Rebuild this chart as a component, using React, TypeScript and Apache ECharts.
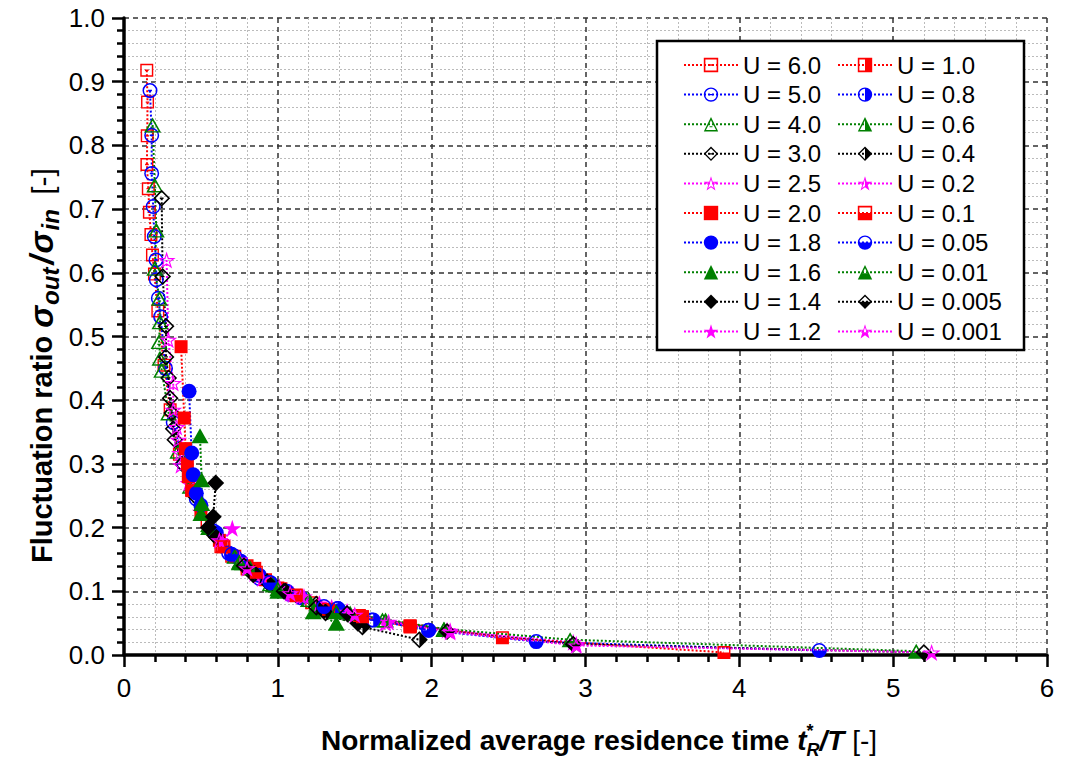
import React, { useEffect, useRef } from 'react';
import * as echarts from 'echarts';

// ---------------- data ----------------
const seriesNames = [
  'U = 6.0', 'U = 5.0', 'U = 4.0', 'U = 3.0', 'U = 2.5',
  'U = 2.0', 'U = 1.8', 'U = 1.6', 'U = 1.4', 'U = 1.2',
  'U = 1.0', 'U = 0.8', 'U = 0.6', 'U = 0.4', 'U = 0.2',
  'U = 0.1', 'U = 0.05', 'U = 0.01', 'U = 0.005', 'U = 0.001',
];

const u6_0 = [[0.148,0.918],[0.153,0.868],[0.151,0.815],[0.149,0.77],[0.158,0.732],[0.165,0.695],[0.175,0.66],[0.185,0.628],[0.198,0.598],[0.22,0.54],[0.26,0.455],[0.3,0.385],[0.36,0.315],[0.44,0.26],[0.54,0.21],[0.64,0.172],[0.8,0.135],[1.0,0.105],[1.22,0.082],[1.55,0.06],[1.86,0.044]];
const u5_0 = [[0.169,0.886],[0.18,0.816],[0.18,0.756],[0.19,0.704],[0.197,0.657],[0.208,0.62],[0.21,0.589],[0.223,0.56],[0.238,0.531],[0.27,0.45],[0.32,0.365],[0.39,0.3],[0.47,0.245],[0.58,0.195],[0.7,0.157],[0.88,0.12],[1.08,0.095],[1.39,0.073],[1.61,0.055]];
const u4_0 = [[0.186,0.832],[0.2,0.738],[0.21,0.667],[0.2,0.607],[0.23,0.56],[0.234,0.523],[0.228,0.492],[0.234,0.466],[0.245,0.447],[0.29,0.38],[0.35,0.32],[0.43,0.265],[0.55,0.205],[0.75,0.145],[0.95,0.112],[1.2,0.087],[1.45,0.067],[1.68,0.055]];
const u3_0 = [[0.245,0.717],[0.251,0.594],[0.273,0.516],[0.273,0.468],[0.29,0.435],[0.3,0.403],[0.31,0.38],[0.32,0.355],[0.33,0.338],[0.38,0.3],[0.46,0.25],[0.58,0.19],[0.78,0.14],[1.0,0.105],[1.25,0.08],[1.5,0.06]];
const u2_5 = [[0.277,0.62],[0.288,0.495],[0.32,0.427],[0.32,0.385],[0.343,0.358],[0.353,0.338],[0.364,0.317],[0.37,0.298],[0.42,0.27],[0.5,0.225],[0.62,0.18],[0.85,0.128],[1.1,0.095],[1.35,0.075],[1.7,0.05]];
const u2_0 = [[0.371,0.484],[0.392,0.372],[0.4,0.324],[0.412,0.3],[0.418,0.28],[0.44,0.258],[0.5,0.225],[0.62,0.18],[0.72,0.155],[0.85,0.136],[1.02,0.104],[1.33,0.07],[1.55,0.058],[1.86,0.045]];
const u1_8 = [[0.423,0.414],[0.44,0.317],[0.45,0.283],[0.47,0.254],[0.5,0.235],[0.6,0.192],[0.72,0.155],[0.95,0.113],[1.15,0.09],[1.4,0.07]];
const u1_6 = [[0.494,0.344],[0.505,0.275],[0.505,0.238],[0.5,0.222],[0.55,0.2],[0.77,0.145],[1.0,0.1],[1.23,0.068],[1.38,0.05]];
const u1_4 = [[0.596,0.27],[0.58,0.217],[0.548,0.2],[0.6,0.185],[0.84,0.126],[1.05,0.1],[1.3,0.07],[1.52,0.05]];
const u1_2 = [[0.704,0.199],[0.64,0.178],[0.75,0.15],[0.88,0.125],[1.01,0.107],[1.09,0.097],[1.17,0.092],[1.27,0.081],[1.45,0.068],[1.7,0.052],[2.1,0.039],[2.94,0.017]];
const u1_0 = [[0.63,0.17],[0.7,0.155],[0.8,0.14],[0.92,0.118],[1.12,0.093],[1.33,0.072],[1.53,0.062],[1.86,0.046]];
const u0_8 = [[0.68,0.16],[0.76,0.147],[0.88,0.125],[1.06,0.1],[1.39,0.073],[1.62,0.055],[1.98,0.039]];
const u0_6 = [[0.72,0.155],[0.82,0.137],[0.97,0.11],[1.2,0.087],[1.47,0.066],[1.7,0.055],[2.08,0.04]];
const u0_4 = [[0.85,0.128],[0.93,0.115],[1.05,0.1],[1.25,0.075],[1.31,0.066],[1.55,0.044],[1.92,0.024]];
const u0_2 = [[0.62,0.18],[0.75,0.15],[0.9,0.12],[1.15,0.092],[1.45,0.068],[1.72,0.052],[2.12,0.038],[2.92,0.02]];
const u0_1 = [[0.65,0.17],[0.86,0.13],[1.12,0.094],[1.55,0.06],[2.46,0.027],[3.9,0.004]];
const u0_05 = [[0.7,0.158],[0.95,0.114],[1.3,0.076],[1.98,0.039],[2.68,0.021],[4.52,0.007]];
const u0_01 = [[0.75,0.146],[1.0,0.104],[1.38,0.068],[2.08,0.041],[2.9,0.024],[5.15,0.006]];
const u0_005 = [[0.78,0.14],[1.04,0.1],[1.45,0.065],[2.1,0.037],[2.92,0.017],[5.2,0.004]];
const u0_001 = [[0.8,0.136],[1.08,0.097],[1.5,0.063],[2.12,0.036],[2.94,0.015],[5.25,0.004]];

const seriesData = [
  u6_0, u5_0, u4_0, u3_0, u2_5,
  u2_0, u1_8, u1_6, u1_4, u1_2,
  u1_0, u0_8, u0_6, u0_4, u0_2,
  u0_1, u0_05, u0_01, u0_005, u0_001,
];

const xTicks = [0, 1, 2, 3, 4, 5, 6];
const yTickLabels = ['0.0','0.1','0.2','0.3','0.4','0.5','0.6','0.7','0.8','0.9','1.0'];

// ---------------- styles ----------------
const RED = '#ff0000', BLUE = '#0000ff', GREEN = '#008000', BLACK = '#000000', MAG = '#ff00ff';
const colorCycle = [RED, BLUE, GREEN, BLACK, MAG];

const SQ_OUT = 'M0 0H100V100H0Z';
const SQ_HOLE = 'M11 11V89H89V11Z';
const SQ_DASH = 'M36 45H64V55H36Z';
const SQ_RIGHT = 'M50 11H89V89H50Z';
const SQ_BOTTOM = 'M11 50H89V89H11Z';

const C_OUT = 'M0 50A50 50 0 1 1 100 50A50 50 0 1 1 0 50Z';
const C_HOLE = 'M10 50A40 40 0 1 0 90 50A40 40 0 1 0 10 50Z';
const C_DASH = 'M37 45H63V55H37Z';
const C_RIGHT = 'M50 10A40 40 0 0 1 50 90Z';
const C_BOTTOM = 'M10 50A40 40 0 0 0 90 50Z';

const T_OUT = 'M50 0L100 100L0 100Z';
const T_HOLE = 'M50 22L15 91L85 91Z';
const T_DASH = 'M40 65H60V72H40Z';
const T_RIGHT = 'M50 22L85 91L50 91Z';
const T_BOTTOM = 'M31.7 58H68.3L85 91H15Z';

const D_OUT = 'M50 0L100 50L50 100L0 50Z';
const D_HOLE = 'M50 13L13 50L50 87L87 50Z';
const D_DASH = 'M39 46H61V54H39Z';
const D_RIGHT = 'M50 13L87 50L50 87Z';
const D_BOTTOM = 'M13 50L87 50L50 87Z';

const S_OUT = 'M50 0L61.2 34.6L97.6 34.5L68.1 55.9L79.4 90.5L50 69L20.6 90.5L31.9 55.9L2.4 34.5L38.8 34.6Z';
const S_HOLE = 'M50 19.4L43.1 40.5L20.9 40.5L38.9 53.6L32 74.8L50 61.7L68 74.8L61.1 53.6L79.1 40.5L56.9 40.5Z';
const S_RIGHT = 'M50 19.4L56.9 40.5L79.1 40.5L61.1 53.6L68 74.8L50 61.7Z';
const S_BOTTOM = 'M34 50L66 50L61.1 53.6L68 74.8L50 61.7L32 74.8L38.9 53.6Z';

const p = (...parts: string[]) => 'path://' + parts.join('');
const shapeSets = [
  { open: p(SQ_OUT, SQ_HOLE, SQ_DASH), fill: p(SQ_OUT), right: p(SQ_OUT, SQ_HOLE, SQ_RIGHT), bottom: p(SQ_OUT, SQ_HOLE, SQ_BOTTOM), size: [13, 13] },
  { open: p(C_OUT, C_HOLE, C_DASH), fill: p(C_OUT), right: p(C_OUT, C_HOLE, C_RIGHT), bottom: p(C_OUT, C_HOLE, C_BOTTOM), size: [15, 15] },
  { open: p(T_OUT, T_HOLE, T_DASH), fill: p(T_OUT), right: p(T_OUT, T_HOLE, T_RIGHT), bottom: p(T_OUT, T_HOLE, T_BOTTOM), size: [17, 15] },
  { open: p(D_OUT, D_HOLE, D_DASH), fill: p(D_OUT), right: p(D_OUT, D_HOLE, D_RIGHT), bottom: p(D_OUT, D_HOLE, D_BOTTOM), size: [17, 17] },
  { open: p(S_OUT, S_HOLE), fill: p(S_OUT), right: p(S_OUT, S_HOLE, S_RIGHT), bottom: p(S_OUT, S_HOLE, S_BOTTOM), size: [18, 17] },
];
const variants = ['open', 'fill', 'right', 'bottom'] as const;

const FONT = "'Liberation Sans', Arial, Helvetica, sans-serif";

function measure(text: string, font: string): number {
  const ctx = document.createElement('canvas').getContext('2d');
  if (!ctx) return text.length * 10;
  ctx.font = font;
  return ctx.measureText(text).width;
}

type Seg = { text: string; size: number; weight: string; italic: boolean; dy: number; gap?: number; stackWithNext?: boolean };

function fontOf(s: Seg) {
  return `${s.italic ? 'italic ' : ''}${s.weight} ${s.size}px ${FONT}`;
}

function layoutSegs(segs: Seg[]) {
  const widths = segs.map((s) => measure(s.text, fontOf(s)));
  const xs: number[] = [];
  let x = 0;
  for (let i = 0; i < segs.length; i++) {
    x += segs[i].gap ?? 0;
    xs.push(x);
    if (segs[i].stackWithNext) continue;
    if (i > 0 && segs[i - 1].stackWithNext) x += Math.max(widths[i], widths[i - 1]);
    else x += widths[i];
  }
  return { xs, total: x };
}

function buildTitle(segs: Seg[], anchor: 'center' | 'start') {
  const { xs, total } = layoutSegs(segs);
  const off = anchor === 'center' ? -total / 2 : 0;
  return segs.map((s, i) => ({
    type: 'text',
    x: xs[i] + off,
    y: s.dy,
    style: {
      text: s.text,
      fill: '#000',
      font: fontOf(s),
      textAlign: 'left',
      textVerticalAlign: 'middle',
      verticalAlign: 'middle',
    },
  }));
}

export default function App() {
  const ref = useRef<HTMLDivElement>(null);

  useEffect(() => {
    if (!ref.current) return;
    const chart = echarts.init(ref.current, undefined, { renderer: 'svg' });

    const series = seriesNames.map((name, i) => {
      const shape = shapeSets[i % 5];
      const variant = variants[Math.floor(i / 5)];
      const color = colorCycle[i % 5];
      return {
        name,
        type: 'line',
        data: seriesData[i],
        symbol: (shape as any)[variant],
        symbolSize: shape.size,
        showSymbol: true,
        itemStyle: { color, borderWidth: 0 },
        lineStyle: { color, width: 2, type: [2, 2] },
        emphasis: { disabled: true },
        z: 2,
      };
    });

    const xTitle = buildTitle([
      { text: 'Normalized average residence time ', size: 28, weight: 'bold', italic: false, dy: 0 },
      { text: 't', size: 28, weight: 'bold', italic: true, dy: 0 },
      { text: '*', size: 18, weight: 'bold', italic: false, dy: -9, stackWithNext: true },
      { text: 'R', size: 18, weight: 'bold', italic: true, dy: 10 },
      { text: '/T', size: 28, weight: 'bold', italic: true, dy: 0 },
      { text: ' [-]', size: 28, weight: 'normal', italic: false, dy: 0 },
    ], 'center');
    const yTitle = buildTitle([
      { text: 'Fluctuation ratio ', size: 29, weight: 'bold', italic: false, dy: 0 },
      { text: 'σ', size: 33, weight: 'bold', italic: true, dy: -1 },
      { text: 'out', size: 24, weight: 'bold', italic: true, dy: 8, gap: 1 },
      { text: '/', size: 33, weight: 'bold', italic: true, dy: -1, gap: 3 },
      { text: 'σ', size: 33, weight: 'bold', italic: true, dy: -1, gap: 2 },
      { text: 'in', size: 24, weight: 'bold', italic: true, dy: 8, gap: 1 },
      { text: ' [-]', size: 30, weight: 'normal', italic: false, dy: 0, gap: 6 },
    ], 'start');

    const legendCommon = {
      orient: 'vertical',
      itemWidth: 54,
      itemHeight: 18,
      itemGap: 5.6,
      padding: 0,
      selectedMode: false,
      textStyle: { fontSize: 24, color: '#000', fontFamily: FONT },
    };

    chart.setOption({
      animation: false,
      backgroundColor: '#fff',
      grid: { left: 124, right: 21, top: 18, bottom: 108, containLabel: false },
      xAxis: {
        type: 'value',
        min: xTicks[0],
        max: xTicks[xTicks.length - 1],
        interval: 1,
        axisLine: { show: true, onZero: false, lineStyle: { color: '#000', width: 3.5 } },
        axisTick: { show: true, inside: false, length: 12, lineStyle: { color: '#000', width: 2.5 } },
        minorTick: { show: true, splitNumber: 5, length: 7, lineStyle: { color: '#000', width: 2.5 } },
        axisLabel: { fontSize: 26, color: '#000', fontFamily: FONT, margin: 20 },
        splitLine: { show: true, lineStyle: { color: '#333', width: 1.5, type: [5, 4] } },
        minorSplitLine: { show: true, lineStyle: { color: '#bbb', width: 1, type: [2, 2] } },
      },
      yAxis: {
        type: 'value',
        min: 0,
        max: 1,
        interval: 0.1,
        axisLine: { show: true, onZero: false, lineStyle: { color: '#000', width: 3.5 } },
        axisTick: { show: true, inside: false, length: 12, lineStyle: { color: '#000', width: 2.5 } },
        minorTick: { show: true, splitNumber: 5, length: 7, lineStyle: { color: '#000', width: 2.5 } },
        axisLabel: {
          fontSize: 26, color: '#000', fontFamily: FONT, margin: 19,
          formatter: (v: number) => yTickLabels[Math.round(v * 10)] ?? v.toFixed(1),
        },
        splitLine: { show: true, lineStyle: { color: '#333', width: 1.5, type: [5, 4] } },
        minorSplitLine: { show: true, lineStyle: { color: '#bbb', width: 1, type: [2, 2] } },
      },
      legend: [
        { ...legendCommon, data: seriesNames.slice(0, 10), left: 683, top: 53 },
        { ...legendCommon, data: seriesNames.slice(10), left: 837, top: 53 },
      ],
      graphic: [
        {
          type: 'rect',
          z: 3,
          shape: { x: 657, y: 41, width: 367, height: 309 },
          style: { fill: '#fff', stroke: '#000', lineWidth: 2.5 },
        },
        { type: 'group', x: 599, y: 740, children: xTitle },
        { type: 'group', x: 42, y: 563, rotation: Math.PI / 2, children: yTitle },
      ],
      series,
    });

    return () => chart.dispose();
  }, []);

  return (
    <div
      ref={ref}
      style={{ position: 'absolute', left: 0, top: 0, width: 1068, height: 763, background: '#fff' }}
    />
  );
}
